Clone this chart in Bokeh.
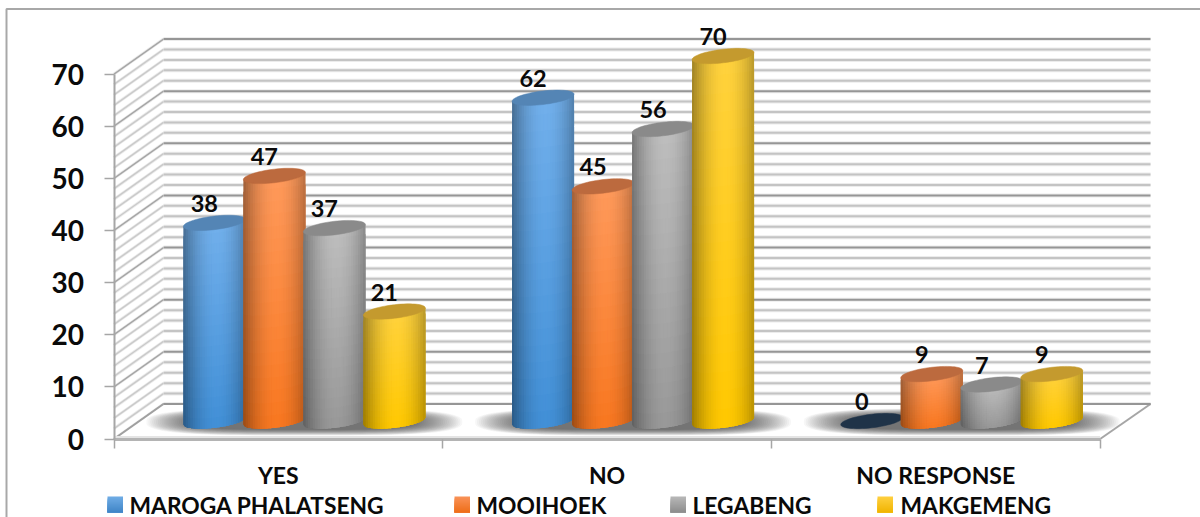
import math
from bokeh.core.properties import value
from bokeh.embed import file_html
from bokeh.models import FixedTicker, LinearAxis, Range1d
from bokeh.plotting import figure
from bokeh.resources import INLINE

# Chart data
categories = ["YES", "NO", "NO RESPONSE"]
series_names = ["MAROGA PHALATSENG", "MOOIHOEK", "LEGABENG", "MAKGEMENG"]
maroga = [38, 62, 0]
mooihoek = [47, 45, 9]
legabeng = [37, 56, 7]
makgemeng = [21, 70, 9]
y_ticks = [0, 10, 20, 30, 40, 50, 60, 70]

# Page geometry, in pixels
W, H = 1200, 517
X0, Y0 = 113.5, 438.5       # front-left corner of the floor (x = 0, value = 0)
CAT_PX = 328.7              # width of one category
UNIT_PX = 5.214             # height of one value unit
DEPTH_X, DEPTH_Y = 49.5, 35.0

def dx(px):
    return px / CAT_PX

def dv(px):
    return px / UNIT_PX

def at_x(px):
    return (px - X0) / CAT_PX

def at_y(py):
    return (Y0 - py) / UNIT_PX

FONT = value("Lato")
INK = "#0a0a0a"

p = figure(width=W, height=H, output_backend="svg", toolbar_location=None,
           min_border=0, min_border_left=0, min_border_right=0,
           min_border_top=0, min_border_bottom=0,
           x_range=Range1d(at_x(0), at_x(W)), y_range=Range1d(at_y(H), at_y(0)),
           x_axis_type=None, y_axis_type=None, outline_line_color=None,
           background_fill_color="white", border_fill_color="white")
p.grid.visible = False

# Outer frame: only the top and left rules fall inside the page
p.line([at_x(W), at_x(6), at_x(6)], [at_y(8.5), at_y(8.5), at_y(H)],
       line_color="#a8a8a8", line_width=2)

# Walls: a rule every two units, heavier on the tens
for v in range(0, 71, 2):
    major = v % 10 == 0
    back_y = v + dv(DEPTH_Y)
    xs_left, xs_back, xs_right = dx(DEPTH_X), 0, dx(1150 - X0)
    p.line([xs_back, xs_left], [v, back_y], line_color="#ececec", line_width=3)
    p.line([xs_back, xs_left], [v, back_y],
           line_color="#a6a6a6" if major else "#cacaca", line_width=1.5)
    p.line([xs_left, xs_right], [back_y, back_y], line_color="#ececec", line_width=4)
    p.line([xs_left, xs_right], [back_y, back_y],
           line_color="#969696" if major else "#c4c4c4", line_width=2)

# Floor
floor_x = [0, dx(DEPTH_X), dx(1150 - X0), 3.0]
floor_y = [0, dv(DEPTH_Y), dv(DEPTH_Y), 0]
p.patch(floor_x, floor_y, fill_color="white", line_color=None)
p.line([xs_back, xs_left], [0, dv(DEPTH_Y)], line_color="#a0a0a0", line_width=2)
p.line([3.0, dx(1150 - X0)], [0, dv(DEPTH_Y)], line_color="#a6a6a6", line_width=2)
p.line(floor_x[1:3], floor_y[1:3], line_color="#969696", line_width=2)
p.line([0, 3.0], [dv(1.5), dv(1.5)], line_color="#e4e4e4", line_width=3)

# Blurred floor shadow beneath each group, built from stacked translucent shapes
CENTER_SHIFT = 26.0
STEP = 60.0
A, B, SHEAR = 31.0, 6.8, 0.115
base_v = dv(18.0)

for i in range(3):
    gx = i + 0.5 + dx(CENTER_SHIFT)
    xs_layers, ys_layers = [], []
    for layer in range(26):
        f = layer / 25
        hw = 158 - 48 * f
        hh = 13.5 - 6 * f
        xs, ys = [], []
        for k in range(72):
            t = 2 * math.pi * k / 72
            c, s = math.cos(t), math.sin(t)
            xs.append(gx + dx(hw * math.copysign(abs(c) ** 0.55, c)))
            ys.append(base_v - dv(1.0) + dv(hh * math.copysign(abs(s) ** 0.75, s)))
        xs_layers.append(xs)
        ys_layers.append(ys)
    p.patches(xs_layers, ys_layers, fill_color="#2a2a2a", fill_alpha=0.04, line_color=None)


def rgb(h):
    return tuple(int(h[j:j + 2], 16) for j in (1, 3, 5))


def mix(a, b, t):
    return tuple(a[j] + (b[j] - a[j]) * t for j in range(3))


def tohex(c):
    return "#%02x%02x%02x" % tuple(int(round(max(0, min(255, q)))) for q in c)


STYLES = [
    ("#72b0ec", "#418fd6", "#5485b5"),
    ("#ff9a5c", "#f87720", "#bc6a3e"),
    ("#bebebe", "#989898", "#8a8a8a"),
    ("#ffd23e", "#ffc800", "#c49a2e"),
]
ZERO_CAP = "#1f3348"
N_STRIPS, N_ROWS = 26, 20


def cap_outline(cx, cy):
    xs, ys = [], []
    for k in range(60):
        t = 2 * math.pi * k / 60
        u, w = math.cos(t), math.sin(t)
        xs.append(cx + dx(A * u))
        ys.append(cy + dv(SHEAR * A * u + B * w))
    return xs, ys


def draw_cylinder(cx, amount, style):
    top, bottom, cap = style
    top, bottom = rgb(top), rgb(bottom)
    px_list, py_list, colors = [], [], []
    # Cells are painted top-left to bottom-right, each reaching under its
    # neighbours, so no background shows through at the joins.
    for s in range(N_STRIPS):
        u0 = -1 + 2 * s / N_STRIPS
        u1 = -1 + 2 * (s + 1) / N_STRIPS
        um = (u0 + u1) / 2
        u1x = min(1.0, u1 + 2 / N_STRIPS)
        lit = 1 - abs((um - 0.08) / 1.08) ** 2.0
        for r in range(N_ROWS):
            v0, v1 = r / N_ROWS, (r + 1) / N_ROWS
            vm = (v0 + v1) / 2
            v1x = min(1.0, v1 + 1 / N_ROWS)
            base = mix(top, bottom, vm)
            c = mix(tuple(q * 0.62 for q in base), base, lit)

            def ypos(u, v):
                low = base_v + dv(SHEAR * A * u - B * math.sqrt(max(0, 1 - u * u)))
                high = base_v + amount + dv(SHEAR * A * u)
                return high + (low - high) * v

            us = [u0 + (u1x - u0) * q / 4 for q in range(5)]
            px_list.append([cx + dx(A * u) for u in us] + [cx + dx(A * u) for u in reversed(us)])
            py_list.append([ypos(u, v0) for u in us] + [ypos(u, v1x) for u in reversed(us)])
            colors.append(tohex(c))
    p.patches(px_list, py_list, fill_color=colors, line_color=None)
    cx_list, cy_list = cap_outline(cx, base_v + amount)
    p.patch(cx_list, cy_list, fill_color=cap, line_color=cap, line_width=0.5)


all_series = [maroga, mooihoek, legabeng, makgemeng]
for i in range(3):
    for j, series in enumerate(all_series):
        cx = i + 0.5 + dx(CENTER_SHIFT) + dx(STEP * (j - 1.5))
        amount = series[i]
        if amount > 0:
            draw_cylinder(cx, amount, STYLES[j])
        else:
            xs, ys = cap_outline(cx, base_v)
            p.patch(xs, ys, fill_color=ZERO_CAP, line_color=ZERO_CAP, line_width=0.5)
        p.text([cx - dx(10)], [base_v + amount + dv(19.5)], text=[str(amount)],
               text_font=FONT, text_font_style="bold", text_font_size="23.5px",
               text_color=INK, text_align="center", text_baseline="middle")

# Axes sit on the front plane of the chart
y_axis = LinearAxis(fixed_location=0, bounds=(0, 70), ticker=FixedTicker(ticks=y_ticks))
y_axis.axis_line_color = "#a6a6a6"
y_axis.axis_line_width = 2
y_axis.major_tick_line_color = "#a6a6a6"
y_axis.major_tick_line_width = 1.5
y_axis.major_tick_in = 0
y_axis.major_tick_out = 10
y_axis.minor_tick_line_color = None
y_axis.major_label_standoff = 20
y_axis.major_label_text_font = "Lato"
y_axis.major_label_text_font_style = "bold"
y_axis.major_label_text_font_size = "28px"
y_axis.major_label_text_color = INK
p.add_layout(y_axis, "left")

x_axis = LinearAxis(fixed_location=0, bounds=(0, 3),
                    ticker=FixedTicker(ticks=[0.5, 1.5, 2.5], minor_ticks=[0, 1, 2, 3]))
x_axis.major_label_overrides = {0.5: categories[0], 1.5: categories[1], 2.5: categories[2]}
x_axis.axis_line_color = "#b4b4b4"
x_axis.axis_line_width = 3
x_axis.major_tick_line_color = None
x_axis.minor_tick_line_color = "#a6a6a6"
x_axis.minor_tick_line_width = 1.5
x_axis.minor_tick_in = 0
x_axis.minor_tick_out = 9
x_axis.major_tick_in = 0
x_axis.major_tick_out = 0
x_axis.major_label_standoff = 13
x_axis.major_label_text_font = "Lato"
x_axis.major_label_text_font_style = "bold"
x_axis.major_label_text_font_size = "23px"
x_axis.major_label_text_color = INK
p.add_layout(x_axis, "below")

# Legend row with shaded swatches
swatch_left = [107, 454, 670, 877]
label_left = [129, 476, 692, 900]
LEGEND_STYLES = [
    ("#70ace6", "#3f85c6"),
    ("#f99258", "#ee6e18"),
    ("#b8b8b8", "#8c8c8c"),
    ("#ffd040", "#f0b400"),
]
for j, name in enumerate(series_names):
    t, b = rgb(LEGEND_STYLES[j][0]), rgb(LEGEND_STYLES[j][1])
    rows = 8
    p.quad(left=[at_x(swatch_left[j])] * rows,
           right=[at_x(swatch_left[j] + 15.5)] * rows,
           top=[at_y(496 + 16 * r / rows) for r in range(rows)],
           bottom=[at_y(512)] * rows,
           fill_color=[tohex(mix(t, b, (r + 0.5) / rows)) for r in range(rows)],
           line_color=None)
    p.text([at_x(label_left[j])], [at_y(504)], text=[name], text_font=FONT,
           text_font_style="bold", text_font_size="22.8px", text_color=INK,
           text_align="left", text_baseline="middle")

open("out.html", "w").write(file_html(p, INLINE))
